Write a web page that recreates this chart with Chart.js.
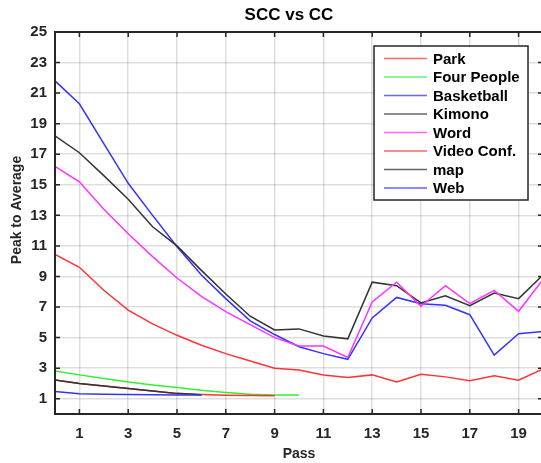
<!DOCTYPE html>
<html>
<head>
<meta charset="utf-8">
<script src="https://cdn.jsdelivr.net/npm/chart.js@4.4.1/dist/chart.umd.min.js"></script>
<style>
  html, body { margin: 0; padding: 0; background: #fff; overflow: hidden; }
  #wrap { width: 545px; height: 463px; }
</style>
</head>
<body>
<div id="wrap"><canvas id="myChart" width="545" height="463"></canvas></div>
<script>
const Park = [10.45, 9.6, 8.1, 6.8, 5.9, 5.15, 4.5, 3.95, 3.47, 3.0, 2.88, 2.56, 2.39, 2.56, 2.1, 2.6, 2.43, 2.17, 2.5, 2.21, 2.95];
const FourPeople = [2.82, 2.56, 2.33, 2.1, 1.9, 1.73, 1.55, 1.41, 1.3, 1.24, 1.24];
const Basketball = [21.8, 20.3, 17.7, 15.1, 13.0, 10.95, 9.1, 7.55, 6.1, 5.2, 4.4, 3.95, 3.58, 6.29, 7.63, 7.22, 7.11, 6.5, 3.86, 5.25, 5.4];
const Kimono = [18.2, 17.1, 15.6, 14.05, 12.25, 11.0, 9.4, 7.85, 6.4, 5.5, 5.57, 5.1, 4.92, 8.63, 8.4, 7.27, 7.74, 7.09, 7.92, 7.55, 9.1];
const Word = [16.2, 15.2, 13.4, 11.8, 10.3, 8.9, 7.7, 6.7, 5.85, 5.0, 4.45, 4.45, 3.7, 7.33, 8.63, 7.05, 8.4, 7.22, 8.09, 6.72, 8.8];
const VideoConf = [2.23, 2.0, 1.83, 1.67, 1.5, 1.33, 1.27, 1.23, 1.21, 1.2];
const MapSeq = [2.23, 2.0, 1.83, 1.67, 1.5, 1.35, 1.26];
const Web = [1.48, 1.32, 1.29, 1.27, 1.26, 1.25, 1.25];

const labels = ["Park", "Four People", "Basketball", "Kimono", "Word", "Video Conf.", "map", "Web"];
const series = [Park, FourPeople, Basketball, Kimono, Word, VideoConf, MapSeq, Web];
const colors = ["#ff3333", "#33ee33", "#3333ff", "#333333", "#ff33ff", "#ff3333", "#333333", "#3333ff"];

const xTicks = [1, 3, 5, 7, 9, 11, 13, 15, 17, 19];
const yTicks = [1, 3, 5, 7, 9, 11, 13, 15, 17, 19, 21, 23, 25];

const FONT = "'Liberation Sans', Arial, sans-serif";

var datasets = series.map(function (vals, i) {
    return {
        label: labels[i],
        data: vals.map(function (v, k) { return { x: k, y: v }; }),
        borderColor: colors[i],
        borderWidth: 1.5,
        pointRadius: 0,
        tension: 0,
        fill: false,
        order: series.length - i
    };
});

// matlab style box with inward ticks, title, ylabel and legend box
const boxPlugin = {
    id: 'boxPlugin',
    afterDatasetsDraw(chart) {
        const ctx = chart.ctx;
        const a = chart.chartArea;
        const xs = chart.scales.x, ys = chart.scales.y;
        ctx.save();
        ctx.strokeStyle = '#262626';
        ctx.lineWidth = 1.5;
        xTicks.forEach(function (t) {
            const px = xs.getPixelForValue(t);
            ctx.beginPath();
            ctx.moveTo(px, a.bottom); ctx.lineTo(px, a.bottom - 5);
            ctx.moveTo(px, a.top); ctx.lineTo(px, a.top + 5);
            ctx.stroke();
        });
        yTicks.forEach(function (t) {
            const py = ys.getPixelForValue(t);
            ctx.beginPath();
            ctx.moveTo(a.left, py); ctx.lineTo(a.left + 5, py);
            ctx.moveTo(a.right, py); ctx.lineTo(a.right - 5, py);
            ctx.stroke();
        });
        ctx.lineWidth = 2;
        ctx.strokeRect(a.left, a.top, a.right - a.left, a.bottom - a.top);

        // title
        ctx.fillStyle = '#000';
        ctx.textAlign = 'center';
        ctx.textBaseline = 'middle';
        ctx.font = 'bold 17px ' + FONT;
        ctx.fillText('SCC vs CC', 289, 15);

        // y label
        ctx.fillStyle = '#262626';
        ctx.font = 'bold 14px ' + FONT;
        ctx.translate(17, 210);
        ctx.rotate(-Math.PI / 2);
        ctx.fillText('Peak to Average', 0, 0);
        ctx.setTransform(1, 0, 0, 1, 0, 0);

        // legend
        const lx = 374, ly = 46, lw = 154, lh = 154;
        ctx.fillStyle = '#fff';
        ctx.fillRect(lx, ly, lw, lh);
        ctx.lineWidth = 1.5;
        ctx.strokeStyle = '#262626';
        ctx.strokeRect(lx, ly, lw, lh);
        ctx.font = 'bold 15px ' + FONT;
        ctx.textAlign = 'left';
        ctx.textBaseline = 'middle';
        labels.forEach(function (name, i) {
            const y = 58.5 + i * 18.5;
            ctx.strokeStyle = colors[i];
            ctx.globalAlpha = 0.75;
            ctx.lineWidth = 1.5;
            ctx.beginPath();
            ctx.moveTo(384, y); ctx.lineTo(427, y);
            ctx.stroke();
            ctx.globalAlpha = 1;
            ctx.fillStyle = '#000';
            ctx.fillText(name, 433, y + 1);
        });
        ctx.restore();
    }
};

var ctx = document.getElementById("myChart").getContext("2d");

new Chart(ctx, {
    type: 'line',
    data: { datasets: datasets },
    options: {
        responsive: false,
        animation: false,
        layout: { padding: { top: 32, right: 2, left: 0, bottom: 0 } },
        plugins: {
            legend: { display: false },
            tooltip: { enabled: false },
            title: { display: false }
        },
        scales: {
            x: {
                type: 'linear',
                min: 0,
                max: 20,
                afterBuildTicks: function (s) { s.ticks = xTicks.map(function (v) { return { value: v }; }); },
                afterFit: function (s) { s.height = 49; },
                ticks: {
                    color: '#262626',
                    font: { family: FONT, size: 15, weight: 'bold' },
                    padding: 11,
                    maxRotation: 0,
                    autoSkip: false
                },
                grid: { color: 'rgba(0,0,0,0.13)', lineWidth: 1.5, drawTicks: false },
                border: { display: false },
                title: {
                    display: true,
                    text: 'Pass',
                    color: '#262626',
                    font: { family: FONT, size: 14, weight: 'bold' },
                    padding: { top: 0, bottom: 0 }
                }
            },
            y: {
                min: 0,
                max: 25,
                afterBuildTicks: function (s) { s.ticks = yTicks.map(function (v) { return { value: v }; }); },
                afterFit: function (s) { s.width = 55; },
                ticks: {
                    color: '#262626',
                    font: { family: FONT, size: 15, weight: 'bold' },
                    padding: 8,
                    autoSkip: false
                },
                grid: { color: 'rgba(0,0,0,0.13)', lineWidth: 1.5, drawTicks: false },
                border: { display: false }
            }
        }
    },
    plugins: [boxPlugin]
});
</script>
</body>
</html>
